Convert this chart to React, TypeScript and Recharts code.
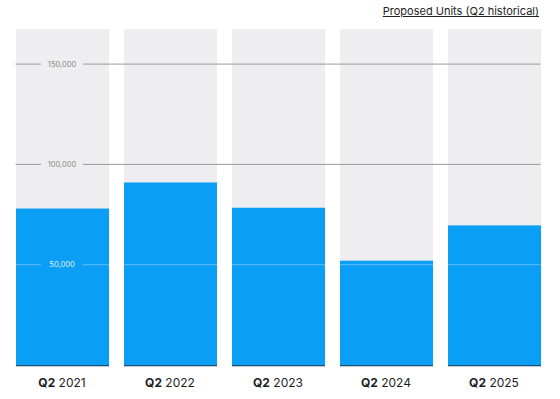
import { Bar, BarChart, ReferenceLine, XAxis, YAxis } from "recharts";

// Q2 proposed units by year.
const QUARTERS = ["Q2", "Q2", "Q2", "Q2", "Q2"];
const YEARS = ["2021", "2022", "2023", "2024", "2025"];
const UNITS = [78000, 91000, 78400, 52000, 69600];
const GRID_TICKS = [50000, 100000, 150000];

const DATA = YEARS.map((year, i) => ({
  name: `${QUARTERS[i]} ${year}`,
  quarter: QUARTERS[i],
  year,
  units: UNITS[i],
}));

const BLUE = "#0b9ef5";
const TRACK = "#eeedef";
const FONT = "Inter, 'Noto Sans', sans-serif";

const BAND = 108;
const INSET = 7.5;

function BarShape(props: any) {
  const { x, y, width, height } = props;
  return (
    <g>
      <rect x={x} y={y} width={width} height={height} fill={BLUE} />
      <rect x={x} y={y + height} width={width} height={1.3} fill="#1f4f73" />
    </g>
  );
}

function Tick(props: any) {
  const { x, y, payload, index } = props;
  const d = DATA[index] ?? { quarter: "", year: payload.value };
  return (
    <text x={x} y={y + 18} dy="0.35em" textAnchor="middle" fontFamily={FONT} fontSize={12} fill="#1e1e1e">
      <tspan fontWeight={700}>{d.quarter}</tspan>
      <tspan> {d.year}</tspan>
    </text>
  );
}

// grid line with its label sitting in the first column, drawn over the bars
function gridShape(value: number) {
  return (props: any) => {
    const { x1, x2, y1 } = props;
    const inside = value < UNITS[0];
    const lineColor = inside ? "rgba(255,255,255,0.35)" : "#9a9a9a";
    const textColor = inside ? "rgba(255,255,255,0.9)" : "#8a8a8a";
    const cx = x1 + BAND / 2;
    return (
      <g>
        <line x1={x1 + INSET} x2={cx - 21} y1={y1} y2={y1} stroke={lineColor} strokeWidth={1} />
        <line x1={cx + 21} x2={x2 - INSET} y1={y1} y2={y1} stroke={lineColor} strokeWidth={1} />
        <text x={cx} y={y1} dy="0.35em" textAnchor="middle" fontFamily={FONT} fontSize={7.5} fill={textColor}>
          {value.toLocaleString("en-US")}
        </text>
      </g>
    );
  };
}

export default function App() {
  return (
    <div style={{ position: "absolute", left: 8, top: 0, width: 540, height: 399 }}>
      <BarChart width={540} height={399} data={DATA} margin={{ top: 29, right: 0, bottom: 0, left: 0 }}>
        <XAxis
          dataKey="name"
          axisLine={false}
          tickLine={false}
          tickSize={0}
          tickMargin={0}
          height={34}
          interval={0}
          tick={<Tick />}
        />
        <YAxis hide domain={[0, 167500]} />
        <Bar
          dataKey="units"
          barSize={93}
          background={{ fill: TRACK }}
          shape={<BarShape />}
          isAnimationActive={false}
        />
        {GRID_TICKS.map((v) => (
          <ReferenceLine key={v} y={v} shape={gridShape(v)} />
        ))}
      </BarChart>
      <div
        style={{
          position: "absolute",
          zIndex: 2,
          right: 9,
          top: 4,
          fontFamily: FONT,
          fontSize: 11,
          lineHeight: "14px",
          color: "#222",
          textDecoration: "underline",
          whiteSpace: "nowrap",
        }}
      >
        Proposed Units (Q2 historical)
      </div>
    </div>
  );
}
